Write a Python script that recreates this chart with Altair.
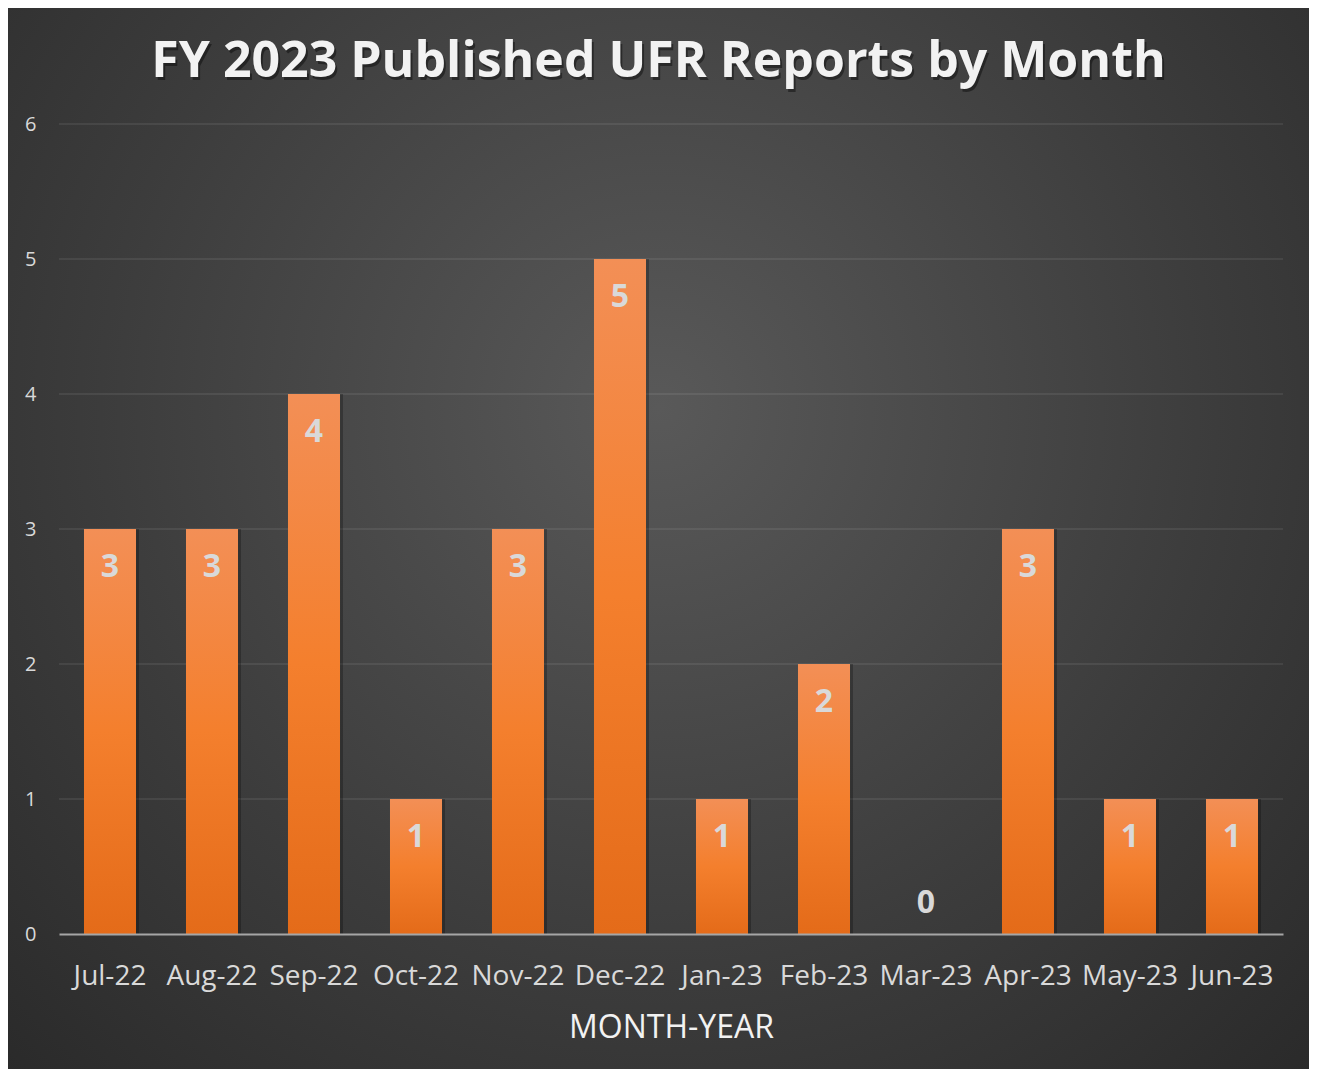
import altair as alt
import pandas as pd

months = ["Jul-22", "Aug-22", "Sep-22", "Oct-22", "Nov-22", "Dec-22",
          "Jan-23", "Feb-23", "Mar-23", "Apr-23", "May-23", "Jun-23"]
reports = [3, 3, 4, 1, 3, 5, 1, 2, 0, 3, 1, 1]
y_ticks = [0, 1, 2, 3, 4, 5, 6]
chart_title = "FY 2023 Published UFR Reports by Month"
x_title = "MONTH-YEAR"

W, H = 1224, 810
PAD = {"left": 51, "top": 116, "right": 26, "bottom": 135}
FONT = "Open Sans"

df = pd.DataFrame({"month": months, "reports": reports})
one_df = pd.DataFrame({"title": [chart_title]})
grid_df = pd.DataFrame({"reports": y_ticks[1:]})

yscale = alt.Scale(domain=[0, 6])

x_enc = alt.X(
    "month:N", sort=months,
    scale=alt.Scale(paddingInner=0.49, paddingOuter=0.245),
    axis=alt.Axis(
        title=x_title, labelAngle=0, labelFont=FONT, labelFontSize=28,
        labelColor="#d9d9d9", labelPadding=28, ticks=False,
        domainColor="#a6a6a6", domainWidth=2, grid=False,
        titleFont=FONT, titleFontSize=32, titleFontWeight="normal",
        titleColor="#f2f2f2", titlePadding=22, zindex=1,
    ),
)
y_axis = alt.Axis(
    values=y_ticks, title=None, grid=False, domain=False, ticks=False,
    labelFont=FONT, labelFontSize=20, labelColor="#d9d9d9",
    labelPadding=23, zindex=1,
)
y_enc = alt.Y("reports:Q", scale=yscale, axis=y_axis)

background = alt.Chart(one_df).mark_rect(
    fill=alt.Gradient(
        gradient="radial",
        stops=[alt.GradientStop(color="#595959", offset=0),
               alt.GradientStop(color="#3c3c3c", offset=0.55),
               alt.GradientStop(color="#262626", offset=1)],
        x1=0.5, y1=0.4, r1=0, x2=0.5, y2=0.4, r2=0.78,
    )
).encode(
    x=alt.value(-PAD["left"]), x2=alt.value(W + PAD["right"]),
    y=alt.value(-PAD["top"]), y2=alt.value(H + PAD["bottom"]),
)

grid = alt.Chart(grid_df).mark_rule(color="#ffffff", opacity=0.1, strokeWidth=1.5).encode(
    y=y_enc
)

shadow = alt.Chart(df).mark_bar(color="#000000", opacity=0.25, xOffset=3).encode(
    x=x_enc, y=y_enc
)

bars = alt.Chart(df).mark_bar(
    fill=alt.Gradient(
        gradient="linear",
        stops=[alt.GradientStop(color="#f38f56", offset=0),
               alt.GradientStop(color="#f47f2d", offset=0.5),
               alt.GradientStop(color="#e46b19", offset=1)],
        x1=0, x2=0, y1=0, y2=1,
    )
).encode(x=x_enc, y=y_enc)

labels = alt.Chart(df).transform_filter("datum.reports > 0").mark_text(
    dy=38, font=FONT, fontSize=32, fontWeight="bold", color="#d9d9d9", baseline="middle"
).encode(x=x_enc, y=y_enc, text="reports:Q")

zero_labels = alt.Chart(df).transform_filter("datum.reports == 0").mark_text(
    dy=-31, font=FONT, fontSize=32, fontWeight="bold", color="#d9d9d9", baseline="middle"
).encode(x=x_enc, y=y_enc, text="reports:Q")

TX = (W + PAD["right"] - PAD["left"]) / 2
title_shadow = alt.Chart(one_df).mark_text(
    font=FONT, fontSize=50, fontWeight="bold", color="#000000", opacity=0.4,
    baseline="alphabetic", align="center", dx=2, dy=3,
).encode(x=alt.value(TX), y=alt.value(-47), text="title:N")

title_text = alt.Chart(one_df).mark_text(
    font=FONT, fontSize=50, fontWeight="bold", color="#f2f2f2",
    baseline="alphabetic", align="center",
).encode(x=alt.value(TX), y=alt.value(-47), text="title:N")

chart = alt.layer(
    background, grid, shadow, bars, labels, zero_labels, title_shadow, title_text
).properties(
    width=W, height=H,
    padding=PAD,
    autosize=alt.AutoSizeParams(type="none"),
).configure(background="#262626").configure_view(stroke=None)

chart.save("out.html", embed_options={"renderer": "svg", "actions": False})
